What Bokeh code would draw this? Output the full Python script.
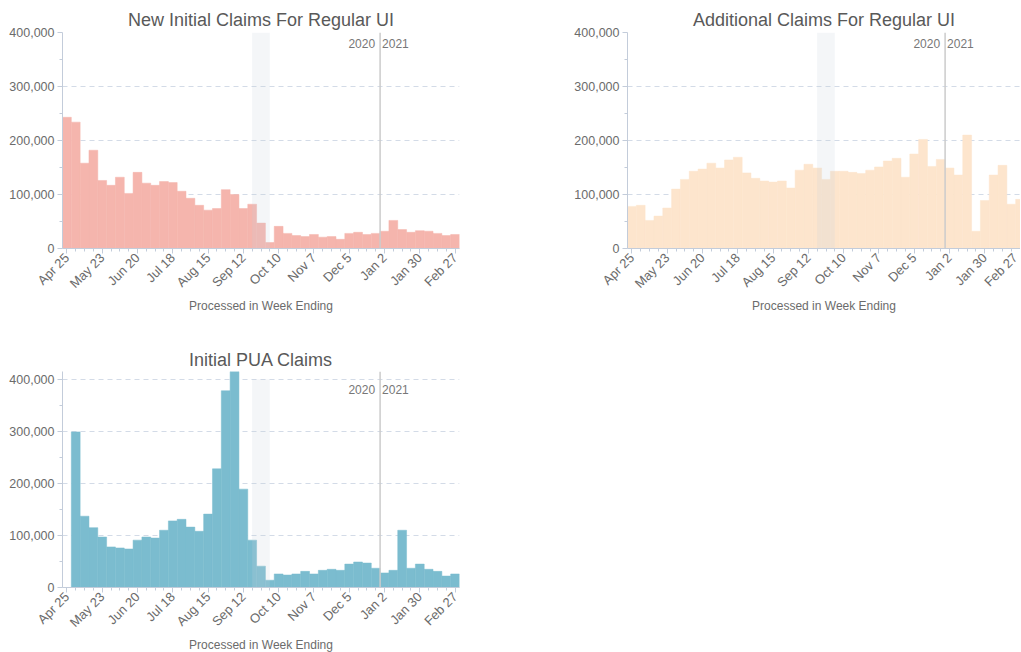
import math
import pandas as pd
from bokeh.plotting import figure
from bokeh.layouts import column, row
from bokeh.models import (Range1d, FixedTicker, NumeralTickFormatter, BoxAnnotation,
                          Span, Label, ColumnDataSource)
from bokeh.embed import file_html
from bokeh.resources import INLINE

# ---------------- data ----------------
weeks = ["2020-04-25", "2020-05-02", "2020-05-09", "2020-05-16", "2020-05-23", "2020-05-30",
         "2020-06-06", "2020-06-13", "2020-06-20", "2020-06-27", "2020-07-04", "2020-07-11",
         "2020-07-18", "2020-07-25", "2020-08-01", "2020-08-08", "2020-08-15", "2020-08-22",
         "2020-08-29", "2020-09-05", "2020-09-12", "2020-09-19", "2020-09-26", "2020-10-03",
         "2020-10-10", "2020-10-17", "2020-10-24", "2020-10-31", "2020-11-07", "2020-11-14",
         "2020-11-21", "2020-11-28", "2020-12-05", "2020-12-12", "2020-12-19", "2020-12-26",
         "2021-01-02", "2021-01-09", "2021-01-16", "2021-01-23", "2021-01-30", "2021-02-06",
         "2021-02-13", "2021-02-20", "2021-02-27"]

new_initial_ui = [243000, 234000, 158000, 182000, 126000, 117000, 132000, 102000, 141000,
                  121000, 117000, 124000, 122000, 106000, 93000, 80000, 71000, 74000,
                  109000, 100000, 74000, 82000, 47000, 11000, 41000, 28000, 24000, 22000,
                  26000, 21000, 22000, 17000, 28000, 30000, 26000, 28000, 32000, 52000,
                  35000, 30000, 33000, 32000, 28000, 24000, 26000]

additional_ui = [78000, 80000, 52000, 60000, 75000, 110000, 128000, 143000, 147000,
                 158000, 149000, 164000, 169000, 140000, 130000, 125000, 123000, 125000,
                 112000, 145000, 156000, 149000, 128000, 143000, 143000, 141000, 139000,
                 145000, 151000, 162000, 167000, 132000, 175000, 202000, 152000, 165000,
                 149000, 136000, 210000, 32000, 89000, 136000, 154000, 82000, 91000]

initial_pua = [0, 299000, 137000, 115000, 97000, 78000, 76000, 74000, 91000, 97000,
               95000, 110000, 128000, 131000, 116000, 108000, 141000, 228000, 378000,
               416000, 189000, 91000, 41000, 14000, 26000, 24000, 26000, 31000, 26000,
               33000, 35000, 33000, 45000, 49000, 47000, 37000, 28000, 33000, 110000,
               37000, 45000, 35000, 31000, 22000, 26000]

tick_dates = ["2020-04-25", "2020-05-23", "2020-06-20", "2020-07-18", "2020-08-15",
              "2020-09-12", "2020-10-10", "2020-11-07", "2020-12-05", "2021-01-02",
              "2021-01-30", "2021-02-27"]
tick_labels = ["Apr 25", "May 23", "Jun 20", "Jul 18", "Aug 15", "Sep 12", "Oct 10",
               "Nov 7", "Dec 5", "Jan 2", "Jan 30", "Feb 27"]

y_ticks = [0, 100000, 200000, 300000, 400000]
y_minor = [50000, 150000, 250000, 350000]

band_start, band_end = "2020-09-19", "2020-10-03"
year_boundary = "2020-12-29 12:00"
x_title = "Processed in Week Ending"

# ---------------- helpers ----------------
DAY = 86400000.0
WEEK = 7 * DAY


def ms(s):
    return pd.Timestamp(s, tz="UTC").value / 1e6


week_ms = [ms(w) for w in weeks]
tick_ms = [ms(t) for t in tick_dates]
FONT = "Liberation Sans"


def make(title, values, color, y_end, frame_w, frac, bl, br, bt, bb, standoff):
    x0 = week_ms[0] - WEEK / 2
    x1 = x0 + (week_ms[-1] - week_ms[0] + WEEK) * frac
    p = figure(x_axis_type="datetime", frame_width=frame_w, frame_height=216,
               x_range=Range1d(x0, x1), y_range=Range1d(0, y_end),
               output_backend="svg", toolbar_location=None, title=title,
               min_border_left=bl, min_border_right=br, min_border_top=bt,
               min_border_bottom=bb, background_fill_color="white",
               border_fill_color="white")
    p.title.align = "center"
    p.title.text_font = FONT
    p.title.text_font_size = "18px"
    p.title.text_font_style = "normal"
    p.title.text_color = "#595959"
    p.title.standoff = standoff
    p.outline_line_color = None
    p.xgrid.visible = False
    p.ygrid.grid_line_color = "#d3dbe7"
    p.ygrid.grid_line_dash = "5 4"
    p.ygrid.grid_line_width = 1

    src = ColumnDataSource(dict(x=week_ms, top=values))
    p.vbar(x="x", top="top", width=WEEK, source=src, fill_color=color,
           line_color=color, line_width=0.5)

    p.add_layout(BoxAnnotation(left=ms(band_start), right=ms(band_end), bottom=0,
                               top=400000, fill_color="#c9d1dc", fill_alpha=0.2,
                               line_color=None))
    yb = ms(year_boundary)
    p.add_layout(Span(location=yb, dimension="height", line_color="#cbcbcb",
                      line_width=1.5))
    for txt, align, off in (("2020", "right", -5), ("2021", "left", 2)):
        p.add_layout(Label(x=yb, y=400000, text=txt, text_align=align, x_offset=off,
                           y_offset=-6, text_baseline="top", text_font=FONT,
                           text_font_size="12px", text_color="#777777"))

    xa = p.xaxis[0]
    xa.ticker = FixedTicker(ticks=tick_ms, minor_ticks=week_ms)
    xa.major_label_overrides = {t: l for t, l in zip(tick_ms, tick_labels)}
    xa.major_label_orientation = math.pi / 4
    xa.axis_label = x_title
    xa.axis_label_text_font_style = "normal"
    xa.axis_label_text_font = FONT
    xa.axis_label_text_font_size = "12px"
    xa.axis_label_text_color = "#6b6b6b"
    xa.axis_label_standoff = 0

    ya = p.yaxis[0]
    ya.ticker = FixedTicker(ticks=y_ticks, minor_ticks=y_minor)
    ya.formatter = NumeralTickFormatter(format="0,0")

    for ax in (xa, ya):
        ax.axis_line_color = "#c3ccda"
        ax.major_tick_line_color = "#c3ccda"
        ax.minor_tick_line_color = "#c3ccda"
        ax.major_tick_out = 5
        ax.major_tick_in = 0
        ax.minor_tick_out = 3
        ax.minor_tick_in = 0
        ax.major_label_text_font = FONT
        ax.major_label_text_font_size = "12.5px"
        ax.major_label_text_color = "#6b6b6b"
    xa.major_label_text_font_size = "13px"
    xa.major_label_standoff = 2
    ya.major_label_standoff = 3
    return p


p1 = make("New Initial Claims For Regular UI", new_initial_ui, "#f5b5ad", 400000,
          397, 1.0, 62, 20, 32, 98, 5)
p2 = make("Additional Claims For Regular UI", additional_ui, "#fde5cd", 400000,
          393, 393 / 397, 148, 0, 32, 98, 5)
p3 = make("Initial PUA Claims", initial_pua, "#7bbccf", 415000,
          397, 1.0, 62, 20, 24, 56, 3)

layout = column(row(p1, p2), p3)
open("out.html", "w").write(file_html(layout, INLINE))
